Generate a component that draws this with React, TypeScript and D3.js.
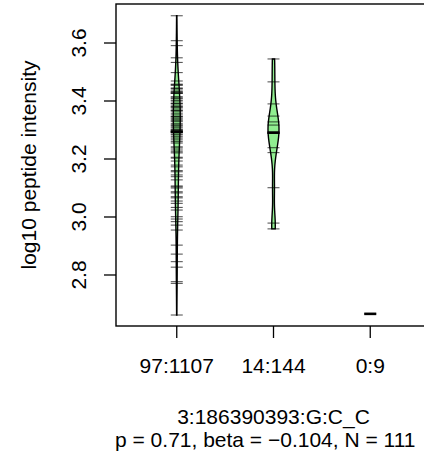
import React from "react";
import * as d3 from "d3";

const categories = ["97:1107", "14:144", "0:9"];

const group1 = [
  3.694, 3.608, 3.591, 3.549, 3.533, 3.498, 3.469, 3.458, 3.455, 3.455,
  3.444, 3.444, 3.438, 3.432, 3.431, 3.427, 3.427, 3.427, 3.415, 3.41,
  3.41, 3.403, 3.4, 3.392, 3.392, 3.386, 3.38, 3.38, 3.376, 3.369,
  3.366, 3.366, 3.358, 3.352, 3.346, 3.346, 3.341, 3.337, 3.331, 3.331,
  3.323, 3.317, 3.317, 3.311, 3.307, 3.3, 3.3, 3.3, 3.294, 3.294,
  3.294, 3.291, 3.286, 3.283, 3.277, 3.272, 3.266, 3.26, 3.255, 3.242,
  3.238, 3.231, 3.225, 3.221, 3.206, 3.203, 3.193, 3.179, 3.173, 3.16,
  3.156, 3.145, 3.139, 3.128, 3.107, 3.104, 3.1, 3.087, 3.083, 3.07,
  3.066, 3.055, 3.047, 3.033, 3.024, 3.001, 2.993, 2.984, 2.972, 2.955,
  2.903, 2.872, 2.846, 2.827, 2.777, 2.771, 2.662,
];
const group2 = [
  3.545, 3.466, 3.39, 3.348, 3.328, 3.317, 3.292, 3.29, 3.288, 3.239,
  3.222, 3.101, 2.979, 2.959,
];
const group3 = [2.666];

const groups = [group1, group2, group3];
const yTicks = [2.8, 3.0, 3.2, 3.4, 3.6];
const yLabel = "log10 peptide intensity";
const titleLine1 = "3:186390393:G:C_C";
const titleLine2 = "p = 0.71, beta = \u22120.104, N = 111";

const W = 424;
const H = 461;
const FONT = "'Liberation Sans', Arial, Helvetica, sans-serif";
const FS = 21;

function kde(values: number[], bw: number) {
  return (t: number) =>
    d3.mean(values, (v) => Math.exp(-0.5 * ((t - v) / bw) ** 2))! /
    (bw * Math.sqrt(2 * Math.PI));
}
function nrd0(values: number[]) {
  const sd = d3.deviation(values) || 0;
  const sorted = values.slice().sort(d3.ascending);
  const iqr = (d3.quantile(sorted, 0.75)! - d3.quantile(sorted, 0.25)!) / 1.34;
  const lo = Math.min(sd, iqr > 0 ? iqr : sd);
  return 0.9 * lo * Math.pow(values.length, -0.2);
}

export default function App() {
  const left = 116, right = 431, top = 4, bottom = 326;
  const x = d3.scaleLinear().domain([0.372, 3.628]).range([left, right]);
  const y = d3.scaleLinear().domain([2.6241, 3.7345]).range([bottom, top]);

  const beans = groups.map((g) => {
    if (g.length < 2) return null;
    const bw = nrd0(g);
    const f = kde(g, bw);
    const [mn, mx] = d3.extent(g) as [number, number];
    return d3.range(0, 201).map((i) => {
      const v = mn + ((mx - mn) * i) / 200;
      return { v, d: f(v) };
    });
  });
  const maxD = d3.max(beans, (b) => (b ? d3.max(b, (p) => p.d) : 0)) || 1;
  const maxHalf = 5.5;
  const lineHalf = 6;

  return (
    <svg
      width={W}
      height={H}
      style={{ position: "absolute", left: 0, top: 0, background: "#fff" }}
      fontFamily={FONT}
    >
      <rect x={0} y={0} width={W} height={H} fill="#fff" />
      {beans.map((b, i) => {
        if (!b) return null;
        const cx = x(i + 1);
        const area = d3
          .area<{ v: number; d: number }>()
          .y((p) => y(p.v))
          .x0((p) => cx - (p.d / maxD) * maxHalf)
          .x1((p) => cx + (p.d / maxD) * maxHalf);
        return (
          <path
            key={"bean" + i}
            d={area(b) || ""}
            fill="#90EE90"
            stroke="#000"
            strokeWidth={1.4}
          />
        );
      })}
      {groups.map((g, i) => {
        const cx = x(i + 1);
        const med = d3.median(g)!;
        return (
          <g key={"lines" + i}>
            {g.map((v, j) => (
              <line
                key={j}
                x1={cx - lineHalf}
                x2={cx + lineHalf}
                y1={y(v)}
                y2={y(v)}
                stroke="#000"
                strokeOpacity={0.65}
                strokeWidth={1.1}
              />
            ))}
            <line
              x1={cx - lineHalf}
              x2={cx + lineHalf}
              y1={y(med)}
              y2={y(med)}
              stroke="#000"
              strokeWidth={2.6}
            />
          </g>
        );
      })}
      <rect
        x={left}
        y={top}
        width={right - left}
        height={bottom - top}
        fill="none"
        stroke="#000"
        strokeWidth={1.4}
      />
      {yTicks.map((t) => (
        <g key={"yt" + t}>
          <line x1={left - 12} x2={left} y1={y(t)} y2={y(t)} stroke="#000" strokeWidth={1.3} />
          <text
            transform={`translate(${86},${y(t)}) rotate(-90)`}
            textAnchor="middle"
            fontSize={FS}
            fill="#000"
          >
            {t.toFixed(1)}
          </text>
        </g>
      ))}
      {categories.map((c, i) => (
        <g key={"xt" + c}>
          <line x1={x(i + 1)} x2={x(i + 1)} y1={bottom} y2={bottom + 12} stroke="#000" strokeWidth={1.3} />
          <text x={x(i + 1)} y={373} textAnchor="middle" fontSize={FS} fill="#000">
            {c}
          </text>
        </g>
      ))}
      <text
        transform={`translate(${36},${(top + bottom) / 2}) rotate(-90)`}
        textAnchor="middle"
        fontSize={FS}
        fill="#000"
      >
        {yLabel}
      </text>
      <text x={(left + right) / 2} y={424} textAnchor="middle" fontSize={FS} fill="#000">
        {titleLine1}
      </text>
      <text x={115} y={447} textAnchor="start" fontSize={FS} fill="#000">
        {titleLine2}
      </text>
    </svg>
  );
}
